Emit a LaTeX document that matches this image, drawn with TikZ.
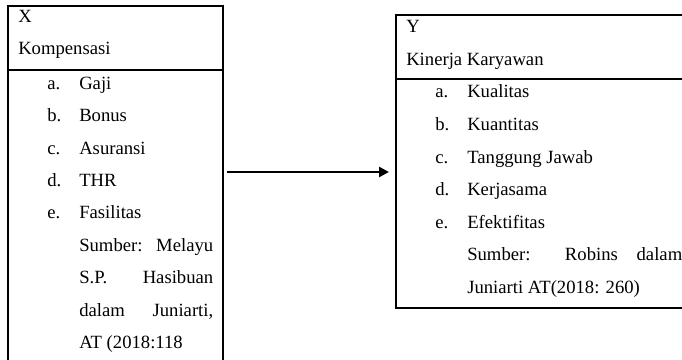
\documentclass[tikz,border=0pt]{standalone}
\usepackage{fontspec}
\setmainfont{Liberation Serif}
\usetikzlibrary{arrows.meta,positioning}
\definecolor{ink}{RGB}{0,0,0}

\begin{document}
\begin{tikzpicture}[x=0.75pt,y=-0.75pt,>={Triangle[length=7.5pt,width=7.5pt]},font=\fontsize{14}{16}\selectfont]
\tikzset{varbox/.style={draw=ink,line width=1.5pt,anchor=north west,inner sep=0pt},
  sep/.style={draw=ink,line width=1.8pt},txt/.style={anchor=base west,inner sep=0pt,text=ink},
  arr/.style={->,line width=2pt,draw=ink}}
\path[use as bounding box,clip] (0,0) rectangle (682,360);
\node[varbox,minimum width=161.25pt,minimum height=281.25pt] (xbox) at (7,5) {};
\node[varbox,minimum width=228.75pt,minimum height=219.75pt] (ybox) at (395,14) {};
\draw[sep] (xbox.west |- 0,70) -- (xbox.east |- 0,70);
\draw[sep] (ybox.west |- 0,79) -- (ybox.east |- 0,79);
\node[txt] (xvar) at (18,23) {X};
\node[txt] (xname) at (18,54.5) {Kompensasi};
\node[txt] (xa) at (47,89.3) {a.};\node[txt] (xgaji) at (79,89.3) {Gaji};
\node[txt] (xb) at (47,121.7) {b.};\node[txt] (xbonus) at (79,121.7) {Bonus};
\node[txt] (xc) at (47,154.1) {c.};\node[txt] (xasur) at (79,154.1) {Asuransi};
\node[txt] (xd) at (47,186.5) {d.};\node[txt] (xthr) at (79,186.5) {THR};
\node[txt] (xe) at (47,218.9) {e.};\node[txt] (xfas) at (79,218.9) {Fasilitas};
\node[txt] (xsrc1) at (79,251.3) {\makebox[100.5pt][s]{Sumber: Melayu}};
\node[txt] (xsrc2) at (79,283.7) {\makebox[100.5pt][s]{S.P. Hasibuan}};
\node[txt] (xsrc3) at (79,316.1) {\makebox[100.5pt][s]{dalam Juniarti,}};
\node[txt] (xsrc4) at (79,348.5) {AT (2018:118};
\node[txt] (yvar) at (406,33) {Y};
\node[txt] (yname) at (406,65) {Kinerja Karyawan};
\node[txt] (ya) at (435,98) {a.};\node[txt] (ykual) at (467,98) {Kualitas};
\node[txt] (yb) at (435,130.5) {b.};\node[txt] (ykuan) at (467,130.5) {Kuantitas};
\node[txt] (yc) at (435,163) {c.};\node[txt] (ytj) at (467,163) {Tanggung Jawab};
\node[txt] (yd) at (435,195.5) {d.};\node[txt] (ykerja) at (467,195.5) {Kerjasama};
\node[txt] (ye) at (435,228) {e.};\node[txt] (yefek) at (467,228) {Efektifitas};
\node[txt] (ysrc1) at (467,260.5) {\makebox[161.25pt][s]{Sumber: Robins dalam}};
\node[txt] (ysrc2) at (467,293) {Juniarti AT(2018: 260)};
\coordinate (arrs) at (227,172);
\coordinate (arre) at (389,172);
\draw[arr] (arrs) -- (arre);
\end{tikzpicture}
\end{document}
